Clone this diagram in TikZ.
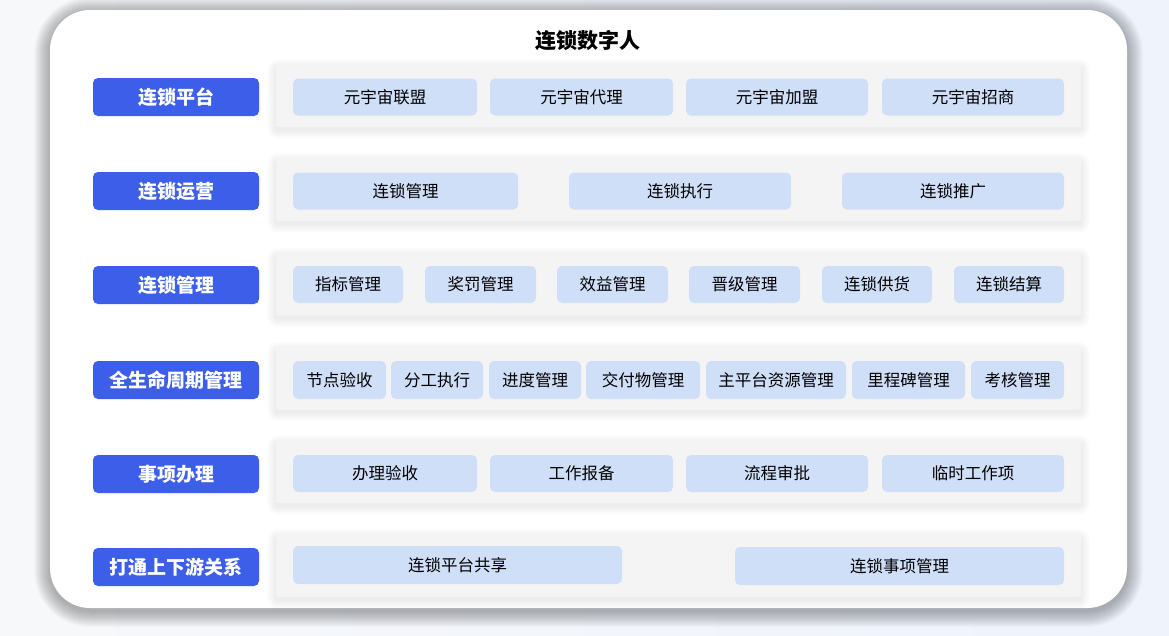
\documentclass[tikz,border=0pt]{standalone}
\usepackage{fontspec}
\setmainfont{Noto Sans CJK SC}
\usetikzlibrary{calc}
\definecolor{labelblue}{HTML}{3D5EE8}
\definecolor{itemblue}{HTML}{CFDFF7}
\definecolor{panelgray}{HTML}{F4F4F4}
\definecolor{pageleft}{HTML}{F7F8FA}
\definecolor{pageright}{HTML}{EEF3FC}

\begin{document}
\begin{tikzpicture}[x=1pt,y=-1pt,
  title/.style={font=\fontsize{21}{21}\selectfont\bfseries},
  rowlabel/.style={fill=labelblue,rounded corners=5pt,text=white,minimum width=166pt,minimum height=38pt,inner sep=0pt,font=\fontsize{19}{19}\selectfont\bfseries},
  item/.style={fill=itemblue,rounded corners=5pt,minimum height=37pt,inner sep=0pt,font=\fontsize{16.5}{16.5}\selectfont},
  panel/.style={fill=panelgray,minimum width=805pt,minimum height=62pt,inner sep=0pt,rounded corners=2pt}]
 \useasboundingbox (0,0) rectangle (1169,635);
 \shade[left color=pageleft,right color=pageright] (0,0) rectangle (1169,635);
 % card with soft shadow
 \foreach \k in {1,...,16}
  \fill[black,opacity=.018,rounded corners={40+\k}] (50-\k,10-\k+3) rectangle (1127+\k,608+\k+3);
 \fill[white,rounded corners=40] (50,10) rectangle (1127,608) node[pos=.5,inner sep=0pt] (card) {};
 \node[title] (head) at (588,41) {连锁数字人};
 % panels
 \foreach \y [count=\i] in {96,190,284.5,378.5,472,566}{
  \foreach \k in {1,...,9}
   \fill[black,opacity=.009,rounded corners={2+\k}] (276-\k,\y-31-\k+3) rectangle (1081+\k,\y+31+\k+3);
  \node[panel] (panel\i) at (678.5,\y) {};
 }
 % row labels
 \node[rowlabel] (lab1) at (176,97) {连锁平台};
 \node[rowlabel] (lab2) at (176,191) {连锁运营};
 \node[rowlabel] (lab3) at (176,285) {连锁管理};
 \node[rowlabel] (lab4) at (176,380) {全生命周期管理};
 \node[rowlabel] (lab5) at (176,474) {事项办理};
 \node[rowlabel] (lab6) at (176,567) {打通上下游关系};
 % items
 \foreach \a/\b/\t [count=\i] in {293/477/元宇宙联盟,490/673/元宇宙代理,686/868/元宇宙加盟,882/1064/元宇宙招商}
  \node[item,minimum width={\b-\a}] (pa\i) at ({(\a+\b)/2},97) {\t};
 \foreach \a/\b/\t [count=\i] in {293/518/连锁管理,569/791/连锁执行,842/1064/连锁推广}
  \node[item,minimum width={\b-\a}] (op\i) at ({(\a+\b)/2},191) {\t};
 \foreach \a/\b/\t [count=\i] in {293/403/指标管理,425/536/奖罚管理,557/668/效益管理,689/800/晋级管理,822/932/连锁供货,954/1064/连锁结算}
  \node[item,minimum width={\b-\a}] (mg\i) at ({(\a+\b)/2},284.5) {\t};
 \foreach \a/\b/\t [count=\i] in {293/386/节点验收,391/483/分工执行,489/581/进度管理,586/700/交付物管理,706/846/主平台资源管理,852/965/里程碑管理,971/1064/考核管理}
  \node[item,minimum width={\b-\a},minimum height=38pt] (lc\i) at ({(\a+\b)/2},380) {\t};
 \foreach \a/\b/\t [count=\i] in {293/477/办理验收,490/673/工作报备,686/868/流程审批,882/1064/临时工作项}
  \node[item,minimum width={\b-\a}] (sx\i) at ({(\a+\b)/2},473.5) {\t};
 \node[item,minimum width=329pt,minimum height=38pt] (dt1) at (457.5,565) {连锁平台共享};
 \node[item,minimum width=329pt,minimum height=38pt] (dt2) at (899.5,566) {连锁事项管理};
\end{tikzpicture}
\end{document}
